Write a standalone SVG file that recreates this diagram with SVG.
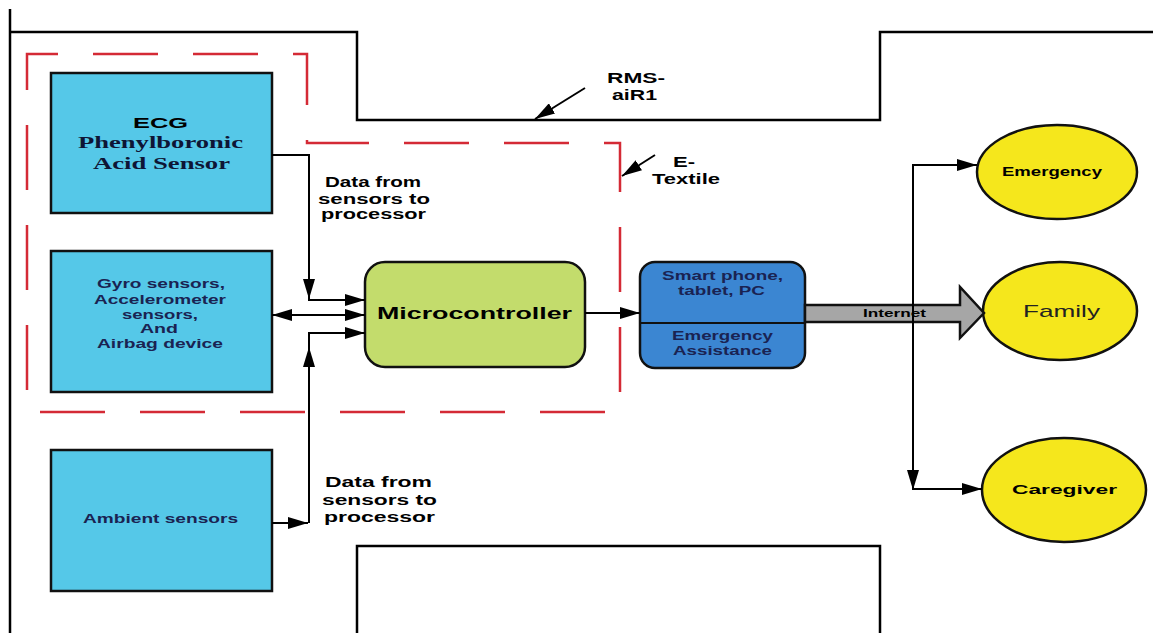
<svg xmlns="http://www.w3.org/2000/svg" width="1153" height="633" viewBox="0 0 1153 633">
<defs>
<style>
.bg{fill:#fff}
.frame{fill:none;stroke:#000;stroke-width:2.5}
.etex{fill:none;stroke:#d42a35;stroke-width:2.5;stroke-dasharray:65 35}
.box{fill:#55c8e8;stroke:#111;stroke-width:2.5}
.mc{fill:#c3dc6c;stroke:#111;stroke-width:2.5}
.dev{fill:#3b86d2;stroke:#111;stroke-width:2.5}
.circ{fill:#f5e71c;stroke:#111;stroke-width:2.5}
.conn{fill:none;stroke:#000;stroke-width:2}
.net{fill:#a6a6a6;stroke:#111;stroke-width:2.5;stroke-linejoin:miter}
.t{font-family:"Liberation Sans",Arial,sans-serif;font-weight:bold;fill:#000}
.n{fill:#1a2352}
.s{font-family:"Liberation Serif","Times New Roman",serif;font-weight:bold;fill:#0e1535}
</style>
<marker id="ah" viewBox="0 0 20 12" refX="20" refY="6" markerWidth="20" markerHeight="12" markerUnits="userSpaceOnUse" orient="auto-start-reverse">
<path d="M0,0 L20,6 L0,12 Z" fill="#000"/>
</marker>
</defs>
<rect class="bg" x="0" y="0" width="1153" height="633"/>

<g id="rms-frame">
<path class="frame" d="M10,9 V633"/>
<path class="frame" d="M10,32 H357 V120 H880 V32 H1153"/>
<path class="frame" d="M357,633 V546 H880 V633"/>
</g>
<g id="etextile-frame">
<path class="etex" d="M27,54 H307 V143 H620 V412 H27 Z" stroke-dashoffset="34"/>
</g>

<g id="labels">
<text class="t" font-size="14" x="607" y="83" textLength="58" lengthAdjust="spacingAndGlyphs">RMS-</text>
<text class="t" font-size="14" x="612" y="100" textLength="45" lengthAdjust="spacingAndGlyphs">aiR1</text>
<text class="t" font-size="14" x="673" y="167" textLength="22" lengthAdjust="spacingAndGlyphs">E-</text>
<text class="t" font-size="14" x="652" y="184" textLength="68" lengthAdjust="spacingAndGlyphs">Textile</text>
<text class="t" font-size="14" x="325" y="187" textLength="96" lengthAdjust="spacingAndGlyphs">Data from</text>
<text class="t" font-size="14" x="318" y="204" textLength="112" lengthAdjust="spacingAndGlyphs">sensors to</text>
<text class="t" font-size="14" x="321" y="219" textLength="105" lengthAdjust="spacingAndGlyphs">processor</text>
<text class="t" font-size="14" x="325" y="487" textLength="107" lengthAdjust="spacingAndGlyphs">Data from</text>
<text class="t" font-size="14" x="322" y="505" textLength="115" lengthAdjust="spacingAndGlyphs">sensors to</text>
<text class="t" font-size="14" x="324" y="522" textLength="111" lengthAdjust="spacingAndGlyphs">processor</text>
</g>

<g id="ecg">
<rect class="box" x="51" y="73" width="221" height="140"/>
<text class="t" font-size="15.5" x="133" y="128" textLength="55" lengthAdjust="spacingAndGlyphs" fill="#0e1535">ECG</text>
<text class="s" font-size="16" x="78" y="148" textLength="165" lengthAdjust="spacingAndGlyphs">Phenylboronic</text>
<text class="s" font-size="16" x="93" y="169" textLength="137" lengthAdjust="spacingAndGlyphs">Acid Sensor</text>
</g>

<g id="gyro">
<rect class="box" x="51" y="251" width="221" height="141"/>
<text class="t n" font-size="12" x="97" y="288" textLength="128" lengthAdjust="spacingAndGlyphs">Gyro sensors,</text>
<text class="t n" font-size="12" x="94" y="304" textLength="132" lengthAdjust="spacingAndGlyphs">Accelerometer</text>
<text class="t n" font-size="12" x="122" y="319" textLength="76" lengthAdjust="spacingAndGlyphs">sensors,</text>
<text class="t n" font-size="12" x="140" y="333" textLength="38" lengthAdjust="spacingAndGlyphs">And</text>
<text class="t n" font-size="12" x="97" y="348" textLength="126" lengthAdjust="spacingAndGlyphs">Airbag device</text>
</g>

<g id="ambient">
<rect class="box" x="51" y="450" width="221" height="141"/>
<text class="t n" font-size="12" x="83" y="523" textLength="155" lengthAdjust="spacingAndGlyphs">Ambient sensors</text>
</g>

<g id="microcontroller">
<rect class="mc" x="365" y="262" width="220" height="105" rx="20" ry="20"/>
<text class="t" font-size="17" x="377" y="319" textLength="195" lengthAdjust="spacingAndGlyphs" fill="#111">Microcontroller</text>
</g>

<g id="devices">
<rect class="dev" x="640" y="262" width="165" height="106" rx="15" ry="15"/>
<line x1="640" y1="323" x2="805" y2="323" stroke="#111" stroke-width="2"/>
<text class="t n" font-size="12.5" x="662" y="280" textLength="121" lengthAdjust="spacingAndGlyphs">Smart phone,</text>
<text class="t n" font-size="12.5" x="678" y="295" textLength="87" lengthAdjust="spacingAndGlyphs">tablet, PC</text>
<text class="t n" font-size="12.5" x="672" y="340" textLength="101" lengthAdjust="spacingAndGlyphs">Emergency</text>
<text class="t n" font-size="12.5" x="673" y="355" textLength="99" lengthAdjust="spacingAndGlyphs">Assistance</text>
</g>

<g id="emergency">
<ellipse class="circ" cx="1057" cy="172" rx="80" ry="47"/>
<text class="t" font-size="12.5" x="1002" y="176" textLength="100" lengthAdjust="spacingAndGlyphs" fill="#111">Emergency</text>
</g>
<g id="family">
<ellipse class="circ" cx="1060" cy="311" rx="77" ry="49"/>
<text font-family="Liberation Sans,Arial,sans-serif" font-size="17" x="1023" y="317" textLength="77" lengthAdjust="spacingAndGlyphs" fill="#222">Family</text>
</g>
<g id="caregiver">
<ellipse class="circ" cx="1064" cy="490" rx="82" ry="52"/>
<text class="t" font-size="13.5" x="1012" y="494" textLength="105" lengthAdjust="spacingAndGlyphs" fill="#111">Caregiver</text>
</g>

<g id="connectors">
<path class="conn" d="M585,88 L535,119" marker-end="url(#ah)"/>
<path class="conn" d="M655,155 L622,176" marker-end="url(#ah)"/>
<path class="conn" d="M272,155 H309 V300 H365" marker-end="url(#ah)"/>
<path class="conn" d="M309,260 V299" marker-end="url(#ah)"/>
<path class="conn" d="M272,315 H365" marker-start="url(#ah)" marker-end="url(#ah)"/>
<path class="conn" d="M272,523 H308" marker-end="url(#ah)"/>
<path class="conn" d="M309,523 V333 H365" marker-end="url(#ah)"/>
<path class="conn" d="M309,400 V347" marker-end="url(#ah)"/>
<path class="conn" d="M585,313 H640" marker-end="url(#ah)"/>
<polygon class="net" points="805,305 960,305 960,287 984,313 960,338 960,322 805,322"/>
<text class="t" font-size="11" x="863" y="317" textLength="63" lengthAdjust="spacingAndGlyphs" fill="#222">Internet</text>
<path class="conn" d="M977,165 H913 V490" marker-start="url(#ah)" marker-end="url(#ah)"/>
<path class="conn" d="M913,489 H982" marker-end="url(#ah)"/>
</g>
</svg>
